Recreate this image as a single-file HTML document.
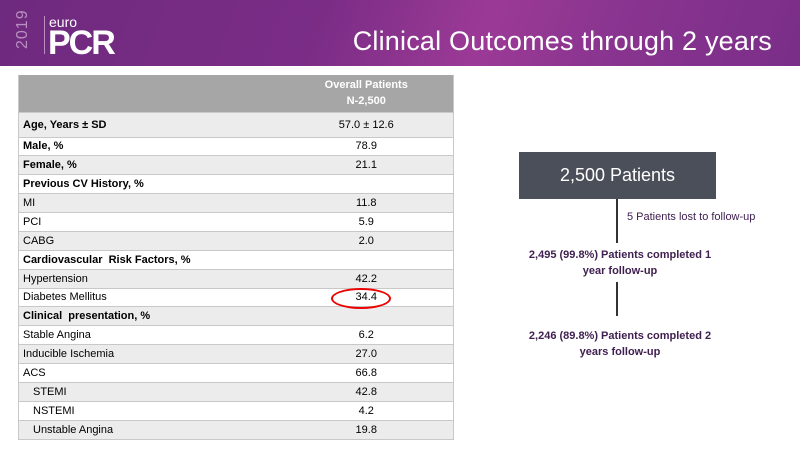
<!DOCTYPE html>
<html><head><meta charset="utf-8"><style>
*{margin:0;padding:0;box-sizing:border-box}
body{width:800px;height:450px;overflow:hidden;background:#fff;font-family:"Liberation Sans",sans-serif;position:relative}
.hdr{position:absolute;left:0;top:0;width:800px;height:66px;background:linear-gradient(110deg,#6e2a7e 0%,#7b2d86 40%,#9b3a96 60%,#8a3590 75%,#7a2e88 100%)}
.title{position:absolute;right:28px;top:26px;color:#fff;font-size:27px;letter-spacing:0.2px}
.yr{position:absolute;left:8px;top:14px;width:30px;height:40px;color:#b98fc0;font-size:16px;transform:rotate(-90deg);transform-origin:center;text-align:center;line-height:40px;letter-spacing:1px}
.euro{position:absolute;left:49px;top:14px;color:#fff;font-size:14px}
.pcr{position:absolute;left:48px;top:24px;color:#fff;font-size:34px;font-weight:bold;letter-spacing:-2px}
.sep{position:absolute;left:44px;top:16px;width:1px;height:38px;background:#b98fc0}
table{position:absolute;left:18px;top:75px;width:436px;border-collapse:collapse;font-size:11px;color:#000;border-left:1px solid #c8c8c8;border-right:1px solid #c8c8c8}
td{height:18.875px;padding:0 4px;border-bottom:1px solid #c8c8c8}
td.v{text-align:center;width:174px}
tr.g td{background:#ececec}
tr.h td{background:#a6a6a6;color:#fff;font-weight:bold;height:37px;line-height:16px}
tr.a td{height:25px}
.b{font-weight:bold}
.ind{padding-left:14px}
.box{position:absolute;left:519px;top:152px;width:197px;height:47px;background:#4b4f59;color:#fff;font-size:18px;text-align:center;line-height:47px}
.ln{position:absolute;width:2px;background:#333}
.t{position:absolute;color:#402050;font-size:11px;text-align:center}
.oval{position:absolute;left:331px;top:288px;width:60px;height:21px;border:2.5px solid #e00;border-radius:50%}
</style></head><body>
<div class="hdr"></div>
<div class="yr">2019</div><div class="sep"></div>
<div class="euro">euro</div><div class="pcr">PCR</div>
<div class="title">Clinical Outcomes through 2 years</div>
<table>
<tr class="h"><td></td><td class="v">Overall Patients<br>N-2,500</td></tr>
<tr class="g a"><td class="b">Age, Years ± SD</td><td class="v">57.0 ± 12.6</td></tr>
<tr><td class="b">Male, %</td><td class="v">78.9</td></tr>
<tr class="g"><td class="b">Female, %</td><td class="v">21.1</td></tr>
<tr><td class="b">Previous CV History, %</td><td class="v"></td></tr>
<tr class="g"><td>MI</td><td class="v">11.8</td></tr>
<tr><td>PCI</td><td class="v">5.9</td></tr>
<tr class="g"><td>CABG</td><td class="v">2.0</td></tr>
<tr><td class="b">Cardiovascular&nbsp; Risk Factors, %</td><td class="v"></td></tr>
<tr class="g"><td>Hypertension</td><td class="v">42.2</td></tr>
<tr><td>Diabetes Mellitus</td><td class="v">34.4</td></tr>
<tr class="g"><td class="b">Clinical&nbsp; presentation, %</td><td class="v"></td></tr>
<tr><td>Stable Angina</td><td class="v">6.2</td></tr>
<tr class="g"><td>Inducible Ischemia</td><td class="v">27.0</td></tr>
<tr><td>ACS</td><td class="v">66.8</td></tr>
<tr class="g"><td class="ind">STEMI</td><td class="v">42.8</td></tr>
<tr><td class="ind">NSTEMI</td><td class="v">4.2</td></tr>
<tr class="g"><td class="ind">Unstable Angina</td><td class="v">19.8</td></tr>
</table>
<div class="oval"></div>
<div class="box">2,500 Patients</div>
<div class="ln" style="left:616px;top:199px;height:44px"></div>
<div class="t" style="left:627px;top:211px;font-size:11px">5 Patients lost to follow-up</div>
<div class="t b" style="left:520px;top:247px;width:200px;line-height:16px">2,495 (99.8%) Patients completed 1 year follow-up</div>
<div class="ln" style="left:616px;top:282px;height:34px"></div>
<div class="t b" style="left:520px;top:328px;width:200px;line-height:16px">2,246 (89.8%) Patients completed 2 years follow-up</div>
</body></html>
